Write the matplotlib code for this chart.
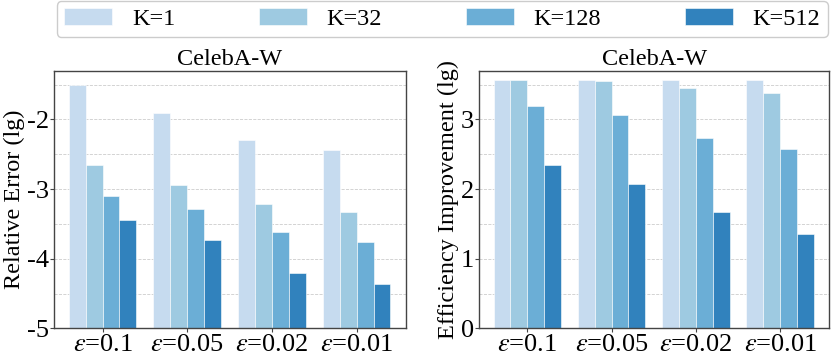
import numpy as np
import matplotlib
matplotlib.use('Agg')
import matplotlib.pyplot as plt
from matplotlib.ticker import MultipleLocator

plt.rcParams['font.family'] = ['Liberation Serif', 'DejaVu Serif']
plt.rcParams['mathtext.fontset'] = 'stix'
plt.rcParams['axes.unicode_minus'] = False

groups = [r'$\varepsilon$=0.1', r'$\varepsilon$=0.05', r'$\varepsilon$=0.02', r'$\varepsilon$=0.01']
k_labels = ['K=1', 'K=32', 'K=128', 'K=512']
colors = ['#c6dbef', '#9ecae1', '#6baed6', '#3182bd']

# log10 relative error, one list per K
rel_error = [
    [-1.50, -1.91, -2.29, -2.44],
    [-2.65, -2.94, -3.22, -3.335],
    [-3.10, -3.28, -3.62, -3.76],
    [-3.445, -3.73, -4.21, -4.37],
]
# log10 efficiency improvement, one list per K
eff_impr = [
    [3.56, 3.565, 3.565, 3.565],
    [3.57, 3.55, 3.455, 3.38],
    [3.196, 3.06, 2.73, 2.575],
    [2.35, 2.07, 1.665, 1.36],
]

fig = plt.figure(figsize=(8.31, 3.6), dpi=100)
ax1 = fig.add_axes([0.0653, 0.088, 0.4229, 0.7156])
ax2 = fig.add_axes([0.5768, 0.088, 0.4208, 0.7156])

x = np.arange(len(groups))
w = 0.2
bottom = -5

for ax, data, ylabel, ylim in [(ax1, rel_error, 'Relative Error (lg)', (-5, -1.3)),
                               (ax2, eff_impr, 'Efficiency Improvement (lg)', (0, 3.7))]:
    for i, vals in enumerate(data):
        vals = np.array(vals)
        if ax is ax1:
            ax.bar(x + (i - 1.5) * w, vals - bottom, w, bottom=bottom, color=colors[i],
                   edgecolor='white', linewidth=0.4, label=k_labels[i], zorder=2)
        else:
            ax.bar(x + (i - 1.5) * w, vals, w, color=colors[i],
                   edgecolor='white', linewidth=0.4, label=k_labels[i], zorder=2)
    ax.set_ylim(*ylim)
    ax.set_xlim(-0.57, 3.58)
    ax.set_xticks(x)
    ax.set_xticklabels(groups, fontsize=19)
    ax.yaxis.set_major_locator(MultipleLocator(1))
    ax.yaxis.set_minor_locator(MultipleLocator(0.5))
    ax.tick_params(axis='y', which='minor', length=0)
    ax.tick_params(axis='both', labelsize=19, length=3, color='#444444', pad=1)
    ax.grid(axis='y', which='both', linestyle='--', color='#cccccc', linewidth=0.6, zorder=0)
    ax.set_axisbelow(True)
    ax.set_title('CelebA-W', fontsize=17.5, pad=4)
    ax.set_ylabel(ylabel, fontsize=17.5, labelpad=1)
    for s in ax.spines.values():
        s.set_color('#444444')
        s.set_linewidth(1.0)

handles, labels = ax1.get_legend_handles_labels()
fig.legend(handles, labels, loc='upper left', bbox_to_anchor=(0.068, 0.998, 0.928, 0.0),
           mode='expand', ncol=4, fontsize=17.5, borderaxespad=0, handlelength=2.0,
           handletextpad=0.8, borderpad=0.3, fancybox=True, edgecolor='#cccccc',
           framealpha=1)

fig.savefig('out.png', dpi=100)
